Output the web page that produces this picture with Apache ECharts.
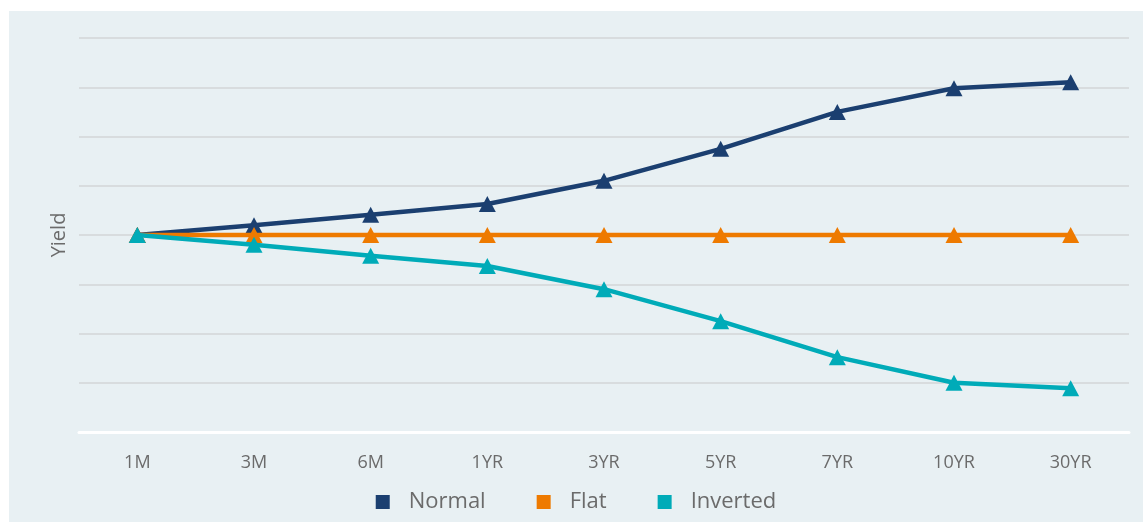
<!DOCTYPE html>
<html>
<head>
<meta charset="utf-8">
<script src="https://cdn.jsdelivr.net/npm/echarts@6/dist/echarts.min.js"></script>
<style>
  html, body { margin: 0; padding: 0; background: #ffffff; }
  #chart { position: absolute; left: 9px; top: 11px; width: 1134px; height: 511px; }
</style>
</head>
<body>
<div id="chart"></div>
<script>
// Yield curve shapes by maturity
const maturities = ['1M', '3M', '6M', '1YR', '3YR', '5YR', '7YR', '10YR', '30YR'];
const normalYields = [4.0, 4.2, 4.41, 4.63, 5.1, 5.75, 6.5, 6.98, 7.1];
const flatYields = [4.0, 4.0, 4.0, 4.0, 4.0, 4.0, 4.0, 4.0, 4.0];
const invertedYields = [4.0, 3.8, 3.58, 3.37, 2.9, 2.25, 1.52, 1.0, 0.89];

const seriesNames = ['Normal', 'Flat', 'Inverted'];
const seriesColors = ['#1b3f70', '#ee7a00', '#00abb8'];
const seriesData = [normalYields, flatYields, invertedYields];

const FONT = '"Open Sans", "Noto Sans", sans-serif';
const TEXT_COLOR = '#6b6b6b';

const chart = echarts.init(document.getElementById('chart'), null, { renderer: 'canvas' });

chart.setOption({
  backgroundColor: '#e8f0f3',
  animation: false,
  textStyle: { fontFamily: FONT },
  grid: { left: 70, right: 14, top: 27, height: 394 },
  legend: {
    bottom: 4,
    left: 'center',
    icon: 'rect',
    itemWidth: 14,
    itemHeight: 14,
    itemGap: 51,
    data: seriesNames,
    textStyle: { color: TEXT_COLOR, fontSize: 22, fontFamily: FONT, padding: [0, 0, 0, 14] }
  },
  xAxis: {
    type: 'category',
    data: maturities,
    boundaryGap: true,
    axisLine: { show: true, lineStyle: { color: '#ffffff', width: 3 } },
    axisTick: { show: false },
    axisLabel: { color: TEXT_COLOR, fontSize: 18, margin: 22, fontFamily: FONT },
    splitLine: { show: false }
  },
  yAxis: {
    type: 'value',
    min: 0,
    max: 8,
    interval: 1,
    name: 'Yield',
    nameLocation: 'middle',
    nameGap: 10,
    nameTextStyle: { color: TEXT_COLOR, fontSize: 20, fontFamily: FONT },
    axisLine: { show: false },
    axisTick: { show: false },
    axisLabel: { show: false },
    splitLine: { show: true, lineStyle: { color: '#d8dcde', width: 2 } }
  },
  series: seriesNames.map((name, i) => ({
    name: name,
    type: 'line',
    data: seriesData[i],
    color: seriesColors[i],
    symbol: 'triangle',
    symbolSize: [17, 16],
    showAllSymbol: true,
    lineStyle: { width: 4.5, color: seriesColors[i] },
    itemStyle: { color: seriesColors[i] },
    z: 2 + i
  }))
});
</script>
</body>
</html>
